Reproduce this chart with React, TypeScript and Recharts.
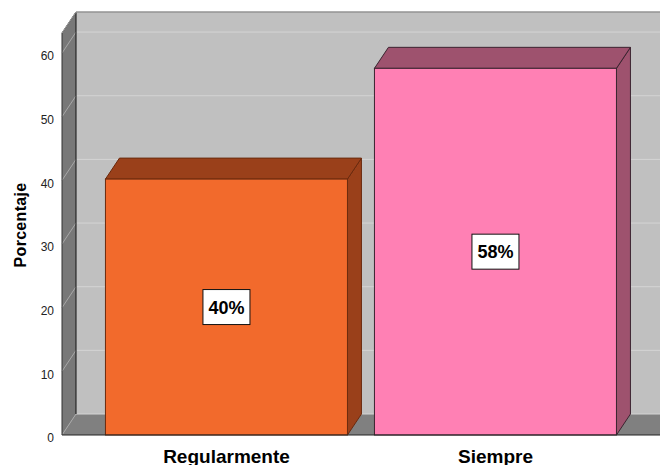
import React from 'react';
import { BarChart, Bar, XAxis, YAxis, CartesianGrid, LabelList, Label } from 'recharts';

const categories = ['Regularmente', 'Siempre'];
const percentages = [40.2, 57.6];
const yTicks = [0, 10, 20, 30, 40, 50, 60];
const yMax = 63.15;

const data = categories.map((name, i) => ({ name, value: percentages[i] }));

const FRONT = ['#F26A2C', '#FF80B4'];
const SIDE = ['#9A401A', '#9E526E'];
const EDGE = ['#6B2A0E', '#3B2430'];
const DX = 14;
const DY = -21;
const FONT = '"Liberation Sans", Arial, sans-serif';

const Bar3D = (props: any) => {
  const { x, y, width, height, index } = props;
  const f = FRONT[index % FRONT.length];
  const s = SIDE[index % SIDE.length];
  const e = EDGE[index % EDGE.length];
  const r = x + width;
  const b = y + height;
  return (
    <g>
      <polygon points={`${r},${y} ${r + DX},${y + DY} ${r + DX},${b + DY} ${r},${b}`} fill={s} stroke={e} strokeWidth={1} />
      <polygon points={`${x},${y} ${x + DX},${y + DY} ${r + DX},${y + DY} ${r},${y}`} fill={s} stroke={e} strokeWidth={1} />
      <rect x={x} y={y} width={width} height={height} fill={f} stroke={e} strokeWidth={1} />
    </g>
  );
};

const GridLine = (props: any) => {
  const { x1, x2, y1, index, y, height } = props;
  const left = x1;
  const right = x2;
  const top = y;
  const bottom = y + height;
  const last = index === yTicks.length - 1;
  return (
    <g>
      {index === 0 && (
        <g>
          <rect x={left + DX} y={top + DY} width={right - left - DX} height={height} fill="#C0C0C0" />
          <polygon points={`${left},${top} ${left + DX},${top + DY} ${left + DX},${bottom + DY} ${left},${bottom}`} fill="#787878" />
          <polygon points={`${left},${bottom} ${left + DX},${bottom + DY} ${right},${bottom + DY} ${right},${bottom}`} fill="#808080" />
        </g>
      )}
      <line x1={left + DX} y1={y1 + DY} x2={right} y2={y1 + DY} stroke="#D4D4D4" strokeWidth={1} />
      <line x1={left} y1={y1} x2={left + DX} y2={y1 + DY} stroke="#A8A8A8" strokeWidth={1} />
      {last && (
        <g fill="none" stroke="#111" strokeWidth={1}>
          <polyline points={`${left},${top} ${left + DX},${top + DY} ${right},${top + DY}`} />
          <line x1={left + DX} y1={top + DY} x2={left + DX} y2={bottom + DY} />
          <line x1={left} y1={top} x2={left} y2={bottom} stroke="#333" />
        </g>
      )}
    </g>
  );
};

const BoxLabel = (props: any) => {
  const { x, y, width, height, value } = props;
  const cx = x + width / 2;
  const cy = y + height / 2;
  return (
    <g>
      <rect x={cx - 23.5} y={cy - 17.5} width={47} height={35} fill="#FFFFFF" stroke="#111" strokeWidth={1} />
      <text x={cx} y={cy + 6.5} textAnchor="middle" fontSize={18} fontWeight="bold" fontFamily={FONT} fill="#000">
        {Math.round(Number(value))}%
      </text>
    </g>
  );
};

const CatTick = (props: any) => {
  const { x, y, payload } = props;
  return (
    <text x={x} y={y + 28} textAnchor="middle" fontSize={19} fontWeight="bold" fontFamily={FONT} fill="#000">
      {payload.value}
    </text>
  );
};

const YTitle = (props: any) => {
  const vb = props.viewBox || { x: 0, y: 33, width: 62, height: 402 };
  const cx = vb.x + 20;
  const cy = vb.y + vb.height / 2 - 9;
  return (
    <text x={cx} y={cy} transform={`rotate(-90, ${cx}, ${cy})`} textAnchor="middle" dominantBaseline="central" fontSize={16} fontWeight="bold" fontFamily={FONT} fill="#000" letterSpacing={0.3}>
      Porcentaje
    </text>
  );
};

export default function App() {
  return (
    <div style={{ position: 'absolute', left: 0, top: 0, width: 660, height: 465, background: '#fff' }}>
      <BarChart width={660} height={465} data={data} margin={{ top: 33, right: 0, bottom: 0, left: 0 }} barCategoryGap="5%">
        <CartesianGrid vertical={false} horizontal={GridLine} />
        <XAxis
          dataKey="name"
          padding={{ left: 30, right: 30 }}
          height={30}
          tickLine={false}
          tickSize={0}
          tickMargin={0}
          axisLine={{ stroke: '#222' }}
          tick={CatTick}
          interval={0}
        />
        <YAxis
          width={62}
          domain={[0, yMax]}
          ticks={yTicks}
          axisLine={false}
          tickLine={false}
          tick={{ fontSize: 12, fill: '#222', fontFamily: FONT, dy: 3 }}
        >
          <Label content={YTitle} />
        </YAxis>
        <Bar dataKey="value" isAnimationActive={false} shape={Bar3D}>
          <LabelList dataKey="value" content={BoxLabel} />
        </Bar>
      </BarChart>
    </div>
  );
}
